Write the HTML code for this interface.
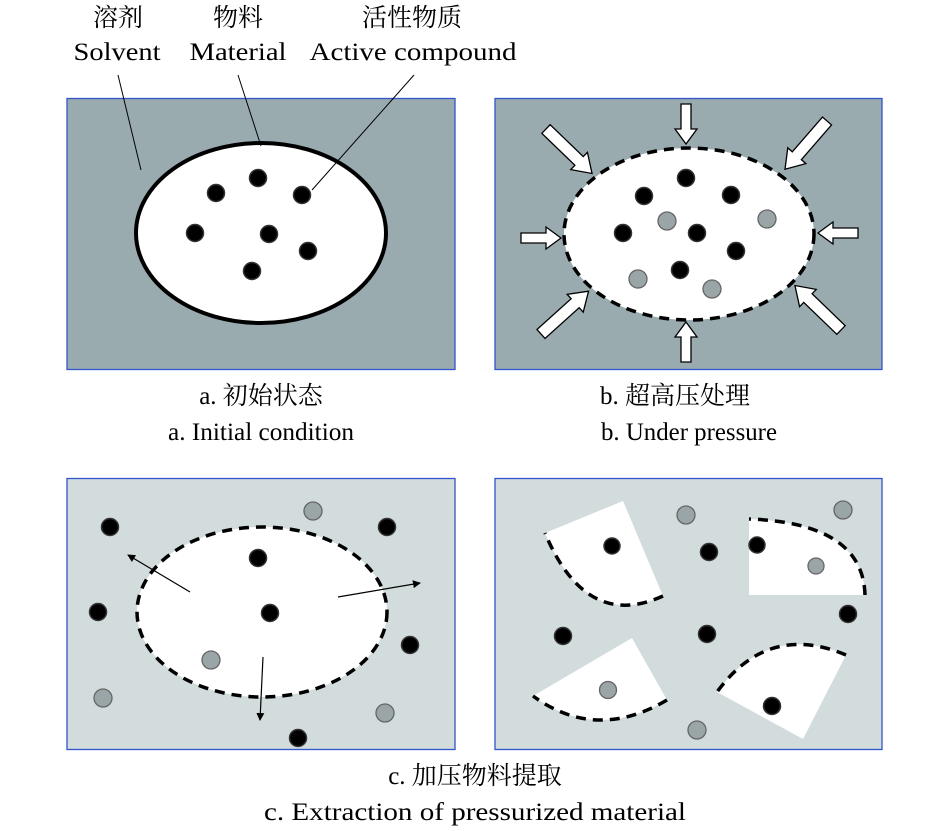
<!DOCTYPE html>
<html><head><meta charset="utf-8"><style>html,body{margin:0;padding:0;background:#fff}svg{display:block}</style></head>
<body>
<svg width="946" height="831" viewBox="0 0 946 831" xmlns="http://www.w3.org/2000/svg">
<defs>
<polygon id="ar" points="0,-5 25,-5 25,-11 40,0 25,11 25,5 0,5" fill="#fff" stroke="#000" stroke-width="1.3"/>
<polygon id="ar2" points="0,-6 46,-6 46,-12 64,0 46,12 46,6 0,6" fill="#fff" stroke="#000" stroke-width="1.3"/>
<marker id="mk" markerWidth="8" markerHeight="8" refX="7" refY="4" orient="auto" markerUnits="userSpaceOnUse"><path d="M0,0 L8,4 L0,8 z" fill="#000"/></marker>
</defs>
<g font-family="'Liberation Serif', 'Noto Serif CJK SC', serif" font-size="25" fill="#000" text-anchor="middle">
<text x="118" y="26">溶剂</text><text x="238" y="26">物料</text><text x="412" y="26">活性物质</text>
<text x="117" y="60" textLength="87" lengthAdjust="spacingAndGlyphs">Solvent</text>
<text x="238" y="60" textLength="97" lengthAdjust="spacingAndGlyphs">Material</text>
<text x="413" y="60" textLength="207" lengthAdjust="spacingAndGlyphs">Active compound</text>
<text x="261" y="404">a. 初始状态</text>
<text x="261" y="440" textLength="186" lengthAdjust="spacingAndGlyphs">a. Initial condition</text>
<text x="675" y="404">b. 超高压处理</text>
<text x="689" y="440" textLength="176" lengthAdjust="spacingAndGlyphs">b. Under pressure</text>
<text x="475" y="784">c. 加压物料提取</text>
<text x="475" y="820" textLength="422" lengthAdjust="spacingAndGlyphs">c. Extraction of pressurized material</text>
</g>
<!-- panel a -->
<rect x="67" y="98.5" width="388" height="271" fill="#9aabb0" stroke="#3355cc" stroke-width="1.3"/>
<ellipse cx="261" cy="233" rx="125" ry="90" fill="#fff" stroke="#000" stroke-width="4"/>
<g fill="#000" stroke="#333" stroke-width="1.5">
<circle cx="216" cy="193" r="8.5"/><circle cx="258" cy="178" r="8.5"/><circle cx="302" cy="195" r="8.5"/><circle cx="195" cy="233" r="8.5"/><circle cx="269" cy="234" r="8.5"/><circle cx="308" cy="251" r="8.5"/><circle cx="252" cy="271" r="8.5"/>
</g>
<g stroke="#000" stroke-width="1"><line x1="118" y1="75" x2="141" y2="170"/><line x1="238" y1="75" x2="261" y2="146"/><line x1="414" y1="75" x2="312" y2="190"/></g>
<!-- panel b -->
<rect x="495" y="98.5" width="387" height="271" fill="#9aabb0" stroke="#3355cc" stroke-width="1.3"/>
<ellipse cx="689" cy="234" rx="125" ry="86" fill="#fff" stroke="#000" stroke-width="3.5" stroke-dasharray="10,7"/>
<g fill="#000" stroke="#333" stroke-width="1.5">
<circle cx="686" cy="178" r="8.5"/><circle cx="644" cy="196" r="8.5"/><circle cx="731" cy="195" r="8.5"/><circle cx="623" cy="233" r="8.5"/><circle cx="697" cy="233" r="8.5"/><circle cx="736" cy="251" r="8.5"/><circle cx="680" cy="270" r="8.5"/>
</g>
<g fill="#9aa5a8" stroke="#666" stroke-width="1.3">
<circle cx="667" cy="221" r="9"/><circle cx="767" cy="219" r="9"/><circle cx="638" cy="279" r="9"/><circle cx="712" cy="289" r="9"/>
</g>
<use href="#ar" transform="translate(686,104) rotate(90)"/>
<use href="#ar" transform="translate(686,362) rotate(-90)"/>
<use href="#ar" transform="translate(521,238) rotate(0)"/>
<use href="#ar" transform="translate(858,233) rotate(180)"/>
<use href="#ar2" transform="translate(546,129) rotate(44)"/>
<use href="#ar2" transform="translate(827,121) rotate(131)"/>
<use href="#ar2" transform="translate(541,334) rotate(-42)"/>
<use href="#ar2" transform="translate(841,330) rotate(-136)"/>
<!-- panel c -->
<rect x="67" y="478.5" width="388" height="271" fill="#d3dcdd" stroke="#3355cc" stroke-width="1.3"/>
<ellipse cx="262" cy="612" rx="125" ry="85" fill="#fff" stroke="#000" stroke-width="3.5" stroke-dasharray="10,7"/>
<g fill="#000" stroke="#333" stroke-width="1.5">
<circle cx="110" cy="527" r="8.5"/><circle cx="387" cy="527" r="8.5"/><circle cx="258" cy="558" r="8.5"/><circle cx="270" cy="613" r="8.5"/><circle cx="98" cy="612" r="8.5"/><circle cx="410" cy="645" r="8.5"/><circle cx="298" cy="738" r="8.5"/>
</g>
<g fill="#9aa5a8" stroke="#666" stroke-width="1.3">
<circle cx="313" cy="511" r="9"/><circle cx="211" cy="660" r="9"/><circle cx="103" cy="698" r="9"/><circle cx="385" cy="713" r="9"/>
</g>
<g stroke="#000" stroke-width="1.2" fill="none" marker-end="url(#mk)">
<line x1="190" y1="592" x2="128" y2="555"/><line x1="338" y1="597" x2="420" y2="583"/><line x1="263" y1="657" x2="260" y2="720"/>
</g>
<!-- panel d -->
<rect x="495" y="478.5" width="387" height="271" fill="#d3dcdd" stroke="#3355cc" stroke-width="1.3"/>
<g fill="#fff">
<path d="M545,533 L623,501 L663,596 Q586,631 545,533 Z"/>
<path d="M749,519 L749,595 L865,595 Q863,523 749,519 Z"/>
<path d="M533,696 L632,638 L667,700 Q596,742 533,696 Z"/>
<path d="M717,692 L803,739 L846,655 Q768,622 717,692 Z"/>
</g>
<g fill="none" stroke="#000" stroke-width="3.5" stroke-dasharray="10,7">
<path d="M663,596 Q586,631 545,533"/>
<path d="M865,595 Q863,523 749,519"/>
<path d="M667,700 Q596,742 533,696"/>
<path d="M846,655 Q768,622 717,692"/>
</g>
<g fill="#000" stroke="#333" stroke-width="1.5">
<circle cx="612" cy="546" r="8"/><circle cx="709" cy="552" r="8.5"/><circle cx="757" cy="545" r="8"/><circle cx="848" cy="614" r="8.5"/><circle cx="563" cy="636" r="8.5"/><circle cx="707" cy="634" r="8.5"/><circle cx="772" cy="706" r="8.5"/>
</g>
<g fill="#9aa5a8" stroke="#666" stroke-width="1.3">
<circle cx="686" cy="515" r="9"/><circle cx="843" cy="510" r="9"/><circle cx="816" cy="566" r="8"/><circle cx="608" cy="690" r="8.5"/><circle cx="697" cy="730" r="9"/>
</g>
</svg>
</body></html>
